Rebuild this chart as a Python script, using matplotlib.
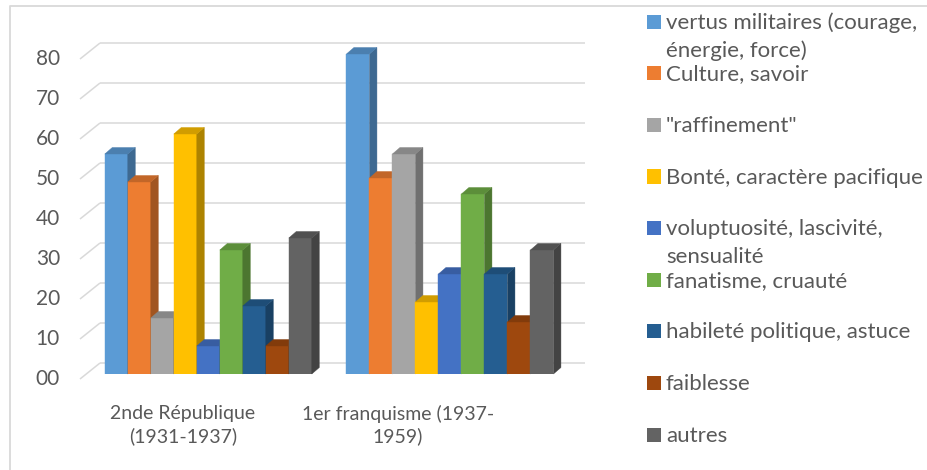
import matplotlib
matplotlib.use("Agg")
import matplotlib.pyplot as plt
from matplotlib.patches import Polygon, Rectangle
from matplotlib.lines import Line2D
import matplotlib.colors as mcolors
import numpy as np

# ---------------- data ----------------
categories = ["2nde République\n(1931-1937)", "1er franquisme (1937-\n1959)"]
series_names = [
    "vertus militaires (courage,\nénergie, force)",
    "Culture, savoir",
    "\"raffinement\"",
    "Bonté, caractère pacifique",
    "voluptuosité, lascivité,\nsensualité",
    "fanatisme, cruauté",
    "habileté politique, astuce",
    "faiblesse",
    "autres",
]
vertus = [55, 80]
culture = [48, 49]
raffinement = [14, 55]
bonte = [60, 18]
voluptuosite = [7, 25]
fanatisme = [31, 45]
habilete = [17, 25]
faiblesse = [7, 13]
autres = [34, 31]
series_values = [vertus, culture, raffinement, bonte, voluptuosite,
                 fanatisme, habilete, faiblesse, autres]
yticks = [0, 10, 20, 30, 40, 50, 60, 70, 80]
ytick_labels = ["00", "10", "20", "30", "40", "50", "60", "70", "80"]
colors = ["#5B9BD5", "#ED7D31", "#A5A5A5", "#FFC000", "#4472C4",
          "#70AD47", "#255E91", "#9E480E", "#636363"]

# ---------------- style ----------------
FONT = "Lato"
FS = 14
FS_TICK = 15
FS_LEG = 16
TXT = "#595959"
GRID = "#D9D9D9"
W, H = 928, 470

fig = plt.figure(figsize=(W / 100, H / 100), dpi=100)
fig.patch.set_facecolor("white")

ax_l, ax_r = 86.25, 571.25     # pixels (from left)
ax_b, ax_t = 374.0, 54.0       # pixels (from top)
ax = fig.add_axes([ax_l / W, (H - ax_b) / H, (ax_r - ax_l) / W, (ax_b - ax_t) / H])
xmin, xmax = -0.505, 1.502
ax.set_xlim(xmin, xmax)
ax.set_ylim(0, 80)
ax.axis("off")

sx = (ax_r - ax_l) / (xmax - xmin)
sy = (ax_b - ax_t) / 80.0


def dpx(dx, dy):
    return dx / sx, dy / sy


# wall depth offsets (relative to bar front plane)
bx, by = dpx(13.75, 11.0)     # back wall
fx, fy = dpx(-6.25, -5.0)     # front edge of the wall

for v in yticks:
    ax.plot([xmin + bx, xmax + bx], [v + by, v + by], color=GRID, lw=1.1,
            zorder=0.5, clip_on=False, solid_capstyle="butt")
    ax.plot([xmin + fx, xmin + bx], [v + fy, v + by], color=GRID, lw=1.1,
            zorder=0.5, clip_on=False, solid_capstyle="butt")

for v, lab in zip(yticks, ytick_labels):
    ax.text(xmin + fx - 20 / sx, v + fy, lab, ha="right", va="center",
            fontsize=FS_TICK, color=TXT, family=FONT, clip_on=False)


def shade(c, f):
    r, g, b = mcolors.to_rgb(c)
    return (r * f, g * f, b * f)


n = len(series_values)
bw = 23.0 / sx
ddx, ddy = dpx(7.5, 6.5)
xc = np.arange(len(categories))

for i, (vals, col) in enumerate(zip(series_values, colors)):
    z = 2 + i * 0.1
    centers = xc + (i - (n - 1) / 2) * bw
    ax.bar(centers, vals, width=bw, color=col, edgecolor=col, linewidth=0.3,
           zorder=z)
    for cx, v in zip(centers, vals):
        x0, x1 = cx - bw / 2, cx + bw / 2
        side = Polygon([(x1, 0), (x1, v), (x1 + ddx, v + ddy), (x1 + ddx, ddy)],
                       closed=True, facecolor=shade(col, 0.68),
                       edgecolor=shade(col, 0.68), lw=0.3, zorder=z + 0.05,
                       clip_on=False)
        top = Polygon([(x0, v), (x1, v), (x1 + ddx, v + ddy), (x0 + ddx, v + ddy)],
                      closed=True, facecolor=shade(col, 0.82),
                      edgecolor=shade(col, 0.82), lw=0.3, zorder=z + 0.05,
                      clip_on=False)
        ax.add_patch(side)
        ax.add_patch(top)

# category labels
label_x = [-0.105, 0.785]
for lx, lab in zip(label_x, categories):
    ax.text(lx, (ax_b - 425) / sy, lab,
            ha="center", va="center", multialignment="center", fontsize=FS,
            color=TXT, family=FONT, linespacing=1.3, clip_on=False)

# legend (manual, Excel style)
leg_y0, leg_dy = 21.7, 51.6
for k, (name, col) in enumerate(zip(series_names, colors)):
    cy = leg_y0 + k * leg_dy
    fig.add_artist(Rectangle((647 / W, 1 - (cy + 7) / H), 14 / W, 14 / H,
                             transform=fig.transFigure, facecolor=col,
                             edgecolor="none"))
    for j, line in enumerate(name.split("\n")):
        fig.text(666 / W, 1 - (cy + 7 + 28 * j) / H, line, ha="left",
                 va="baseline", fontsize=FS_LEG, color=TXT, family=FONT)

# chart border
fig.add_artist(Line2D([10 / W, 10 / W, 1.0], [0.0, 1 - 6 / H, 1 - 6 / H],
                      transform=fig.transFigure, color=GRID, lw=1.3))

fig.savefig("out.png", dpi=100, facecolor="white")
